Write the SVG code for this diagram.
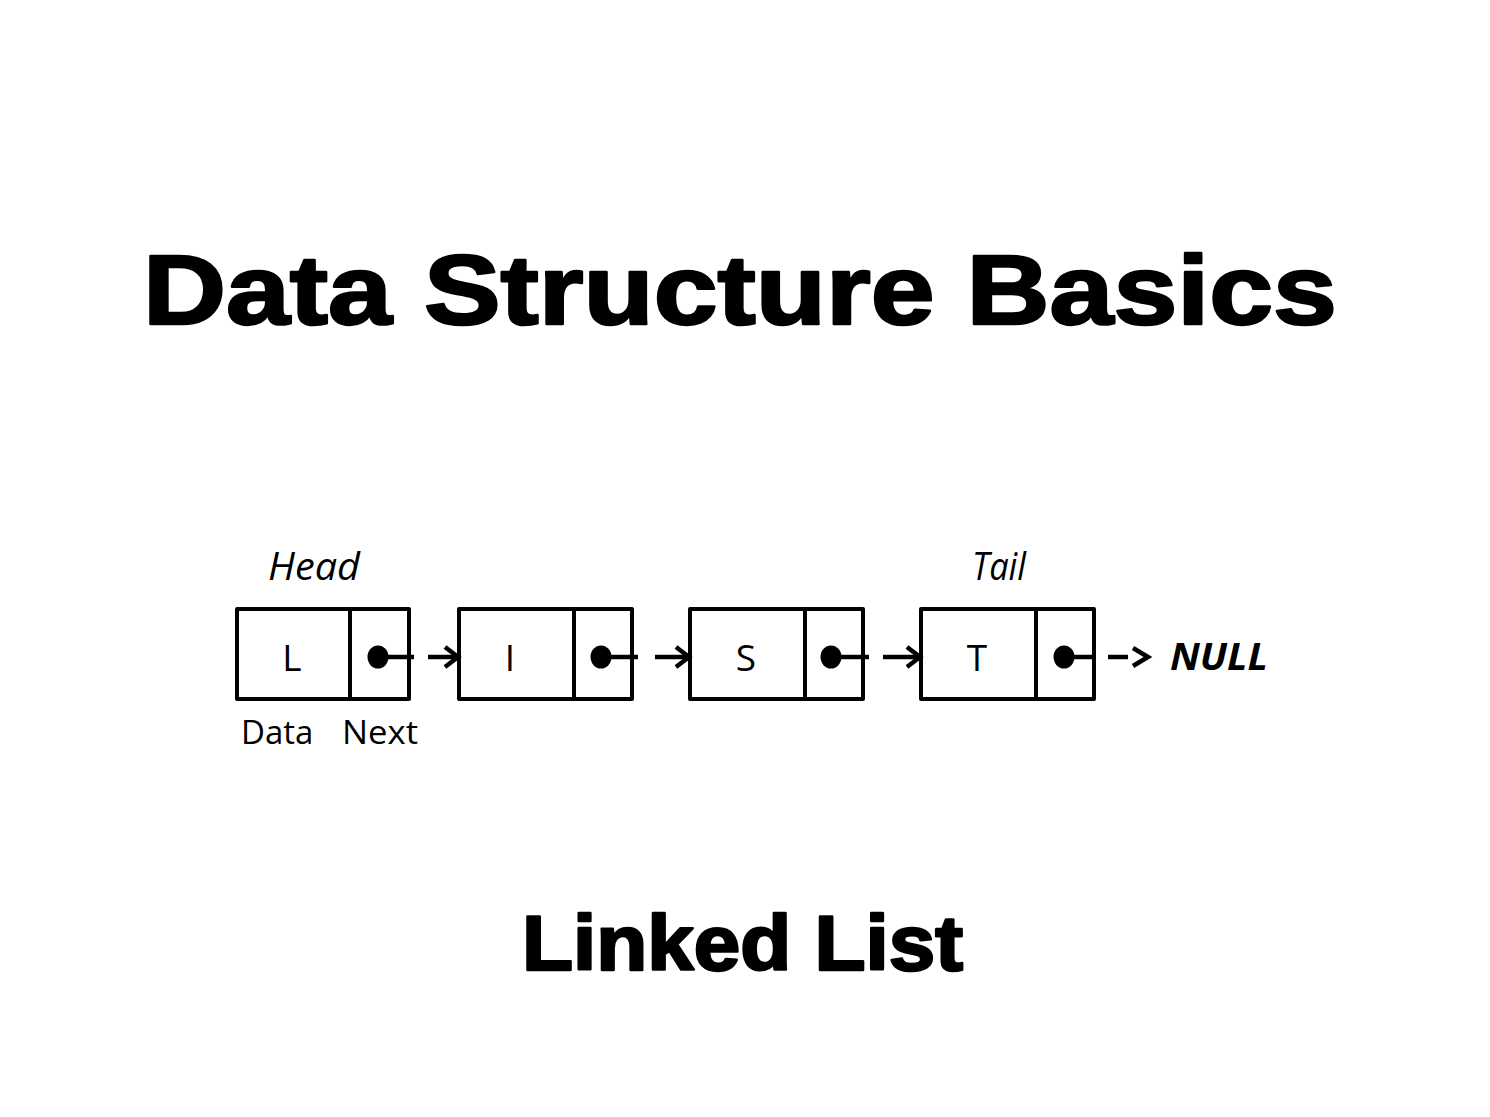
<svg xmlns="http://www.w3.org/2000/svg" width="1490" height="1117" viewBox="0 0 1490 1117">
<style>
.title{font-family:"Liberation Sans",Arial,sans-serif;font-weight:bold;fill:#000;stroke:#000;stroke-width:2.5;stroke-linejoin:round}
.box{fill:#fff;stroke:#000;stroke-width:4;stroke-linejoin:round}
.div{stroke:#000;stroke-width:4}
.lbl{font-family:"Open Sans","Noto Sans",sans-serif;font-size:37px;fill:#000;text-anchor:middle}
.cap{font-family:"Open Sans","Noto Sans",sans-serif;font-size:33px;fill:#000}
.ital{font-family:"Open Sans","Noto Sans",sans-serif;font-size:38px;font-style:italic;fill:#000}
.conn line,.conn polyline{stroke:#000;stroke-width:4.5;fill:none}
</style>
<rect width="1490" height="1117" fill="#fff"/>
<text class="title" x="143" y="324" font-size="99" textLength="1194" lengthAdjust="spacingAndGlyphs">Data Structure Basics</text>
<text class="title" x="522" y="970" font-size="77" textLength="441" lengthAdjust="spacingAndGlyphs">Linked List</text>

<text class="ital" x="268" y="580" textLength="92" lengthAdjust="spacingAndGlyphs">Head</text>
<text class="ital" x="972" y="580" textLength="54" lengthAdjust="spacingAndGlyphs">Tail</text>

<g id="node1">
<rect class="box" x="237" y="609" width="172" height="90"/>
<line class="div" x1="350" y1="609" x2="350" y2="699"/>
<text class="lbl" x="292" y="671">L</text>
<ellipse cx="378" cy="657" rx="10.5" ry="11.5"/>
</g>
<g id="node2">
<rect class="box" x="459" y="609" width="173" height="90"/>
<line class="div" x1="574" y1="609" x2="574" y2="699"/>
<text class="lbl" x="510" y="671">I</text>
<ellipse cx="601" cy="657" rx="10.5" ry="11.5"/>
</g>
<g id="node3">
<rect class="box" x="690" y="609" width="173" height="90"/>
<line class="div" x1="805" y1="609" x2="805" y2="699"/>
<text class="lbl" x="746" y="671">S</text>
<ellipse cx="831" cy="657" rx="10.5" ry="11.5"/>
</g>
<g id="node4">
<rect class="box" x="921" y="609" width="173" height="90"/>
<line class="div" x1="1036" y1="609" x2="1036" y2="699"/>
<text class="lbl" x="977" y="671">T</text>
<ellipse cx="1064" cy="657" rx="10.5" ry="11.5"/>
</g>
<text class="cap" x="241" y="744">Data</text>
<text class="cap" x="342" y="744" textLength="76" lengthAdjust="spacingAndGlyphs">Next</text>
<text x="1170" y="670" font-family="'Open Sans','Noto Sans',sans-serif" font-size="37" font-weight="bold" font-style="italic" textLength="98" lengthAdjust="spacingAndGlyphs">NULL</text>

<g class="conn" id="connectors">
<line x1="378" y1="657" x2="414" y2="657"/>
<line x1="428" y1="657" x2="458" y2="657"/>
<polyline points="445,647 458,657 445,667"/>
<line x1="601" y1="657" x2="638" y2="657"/>
<line x1="655" y1="657" x2="689" y2="657"/>
<polyline points="676,647 689,657 676,667"/>
<line x1="831" y1="657" x2="869" y2="657"/>
<line x1="883" y1="657" x2="920" y2="657"/>
<polyline points="907,647 920,657 907,667"/>
<line x1="1064" y1="657" x2="1094" y2="657"/>
<line x1="1108" y1="657" x2="1128" y2="657"/>
<polyline points="1133,648 1148,657 1133,666"/>
</g>
</svg>
